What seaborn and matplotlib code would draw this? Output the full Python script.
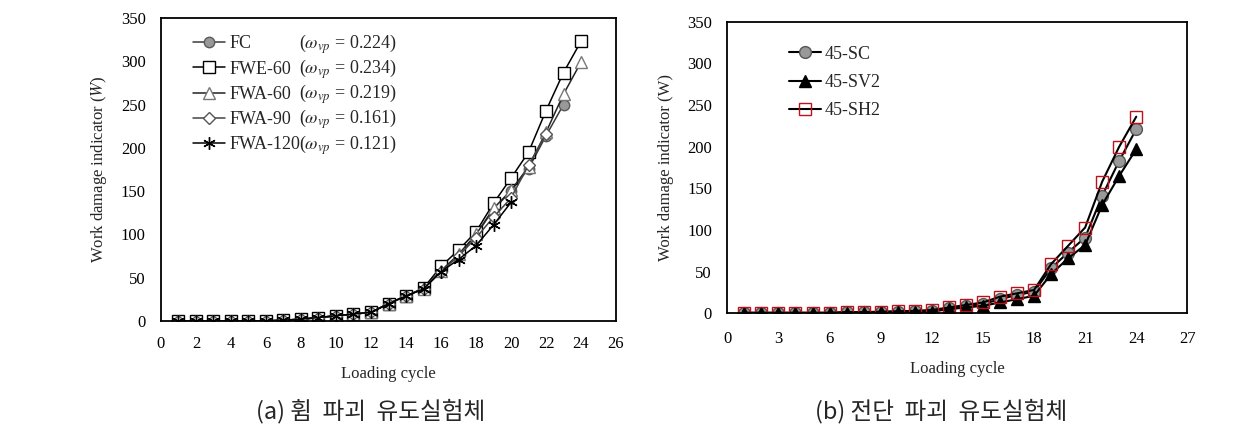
import numpy as np
import pandas as pd
import matplotlib
matplotlib.use("Agg")
import matplotlib.pyplot as plt
import seaborn as sns

# (a) flexural failure specimens
cycles_a = list(range(1, 25))
fc = [0, 0, 0, 0, 0, 0, 1, 2, 4, 6, 8, 10, 20, 29, 37, 58, 76, 99, 129, 150, 176, 214, 250]
fwe60 = [0, 0, 0, 0, 0, 0, 1, 2, 4, 6, 8, 10, 20, 29, 38, 63, 82, 103, 136, 165, 195, 243, 287, 323]
fwa60 = [0, 0, 0, 0, 0, 0, 1, 2, 4, 6, 8, 10, 20, 29, 37, 58, 77, 100, 130, 151, 178, 218, 262, 299]
fwa90 = [0, 0, 0, 0, 0, 0, 1, 2, 4, 6, 8, 10, 20, 29, 37, 57, 75, 96, 120, 142, 180, 216]
fwa120 = [0, 0, 0, 0, 0, 0, 1, 2, 4, 6, 8, 10, 20, 29, 37, 57, 71, 87, 111, 137]
names_a = ["FC", "FWE-60", "FWA-60", "FWA-90", "FWA-120"]
omega_a = ["0.224", "0.234", "0.219", "0.161", "0.121"]

# (b) shear failure specimens
cycles_b = list(range(1, 25))
sc45 = [0.5, 0.5, 0.5, 0.5, 0.5, 0.5, 1, 1, 1.5, 2, 2.5, 3, 6, 9, 11, 17, 22, 26, 54, 73, 91, 141, 183, 221]
sv2 = [0.3, 0.3, 0.3, 0.3, 0.3, 0.3, 0.8, 0.8, 1, 1.5, 2, 2, 5, 7, 9, 13, 17, 21, 47, 66, 82, 130, 165, 197]
sh2 = [0.8, 0.8, 0.8, 0.8, 0.8, 0.8, 1.5, 1.5, 2, 2.5, 3, 4, 7, 10, 13, 20, 24, 28, 59, 81, 103, 158, 200, 236]
names_b = ["45-SC", "45-SV2", "45-SH2"]

sns.set_style("white")
plt.rcParams["font.family"] = ["Liberation Serif", "Noto Sans CJK KR"]
plt.rcParams["mathtext.fontset"] = "stix"

fig = plt.figure(figsize=(12.45, 4.26), dpi=100)
ax1 = fig.add_axes([0.1293, 0.2465, 0.3655, 0.7113])
ax2 = fig.add_axes([0.5842, 0.2645, 0.3695, 0.6845])

# left panel
series_a = [fc, fwe60, fwa60, fwa90, fwa120]
styles_a = [
    dict(marker="o", markersize=7.5, mfc="#999999", mec="#5a5a5a", color="#3a3a3a"),
    dict(marker="s", markersize=8, mfc="white", mec="black", color="black"),
    dict(marker="^", markersize=8, mfc="white", mec="#777777", color="#222222"),
    dict(marker="D", markersize=6, mfc="white", mec="#555555", color="#444444"),
    dict(marker=(6, 2, 0), markersize=9, mec="black", color="black"),
]
for name, vals, st in zip(names_a, series_a, styles_a):
    df = pd.DataFrame({"cycle": cycles_a[:len(vals)], "W": vals})
    sns.lineplot(data=df, x="cycle", y="W", ax=ax1, label=name, linewidth=1.1,
                 mew=1.0, **st)

# right panel
series_b = [sc45, sv2, sh2]
styles_b = [
    dict(marker="o", markersize=8.5, mfc="#999999", mec="#555555"),
    dict(marker="^", markersize=8.5, mfc="black", mec="black"),
    dict(marker="s", markersize=8, mfc="none", mec="#c0101a"),
]
for name, vals, st in zip(names_b, series_b, styles_b):
    df = pd.DataFrame({"cycle": cycles_b[:len(vals)], "W": vals})
    sns.lineplot(data=df, x="cycle", y="W", ax=ax2, label=name, linewidth=1.5,
                 color="black", mew=1.0, **st)

for ax, xmax, xstep, xpad, ylab in [(ax1, 26, 2, 11, "Work damage indicator ($\\it{W}$)"),
                                    (ax2, 27, 3, 13, "Work damage indicator (W)")]:
    ax.set_xlim(0, xmax)
    ax.set_ylim(0, 350)
    ax.set_xticks(np.arange(0, xmax + 1, xstep))
    ax.set_yticks(np.arange(0, 351, 50))
    ax.tick_params(direction="in", length=4, width=1, labelsize=12, colors="black")
    ax.tick_params(axis="x", pad=xpad)
    ax.tick_params(axis="y", pad=11)
    for sp in ax.spines.values():
        sp.set_color("black")
        sp.set_linewidth(1.3)
    ax.set_xlabel("Loading cycle", fontsize=12)
    ax.set_ylabel(ylab, fontsize=12)

ax1.xaxis.set_label_coords(0.5, -0.148)
ax1.yaxis.set_label_coords(-0.115, 0.5)
ax2.xaxis.set_label_coords(0.5, -0.164)
ax2.yaxis.set_label_coords(-0.117, 0.5)

leg1 = ax1.legend(loc="upper left", bbox_to_anchor=(0.0703, 0.943), frameon=False,
                  fontsize=13, borderpad=0, borderaxespad=0, handlelength=1.75,
                  handletextpad=0.25, labelspacing=0.46)
leg2 = ax2.legend(loc="upper left", bbox_to_anchor=(0.134, 0.918), frameon=False,
                  fontsize=13, borderpad=0, borderaxespad=0, handlelength=1.8,
                  handletextpad=0.15, labelspacing=0.62)

fig.canvas.draw()
H = fig.get_figheight() * fig.dpi
W = fig.get_figwidth() * fig.dpi
for t, om in zip(leg1.get_texts(), omega_a):
    bb = t.get_window_extent()
    yc = (bb.y0 + bb.y1) / 2
    fig.text(299 / W, yc / H, "($\\omega_{vp}$ = " + om + ")", fontsize=13,
             va="center", ha="left")

fig.text(371 / W, 1 - 411 / H, "(a) 휨  파괴  유도실험체", fontsize=17,
         ha="center", va="center", family=["Noto Sans CJK KR", "DejaVu Sans"])
fig.text(941 / W, 1 - 411 / H, "(b) 전단  파괴  유도실험체", fontsize=17,
         ha="center", va="center", family=["Noto Sans CJK KR", "DejaVu Sans"])

fig.savefig("out.png", dpi=100)
